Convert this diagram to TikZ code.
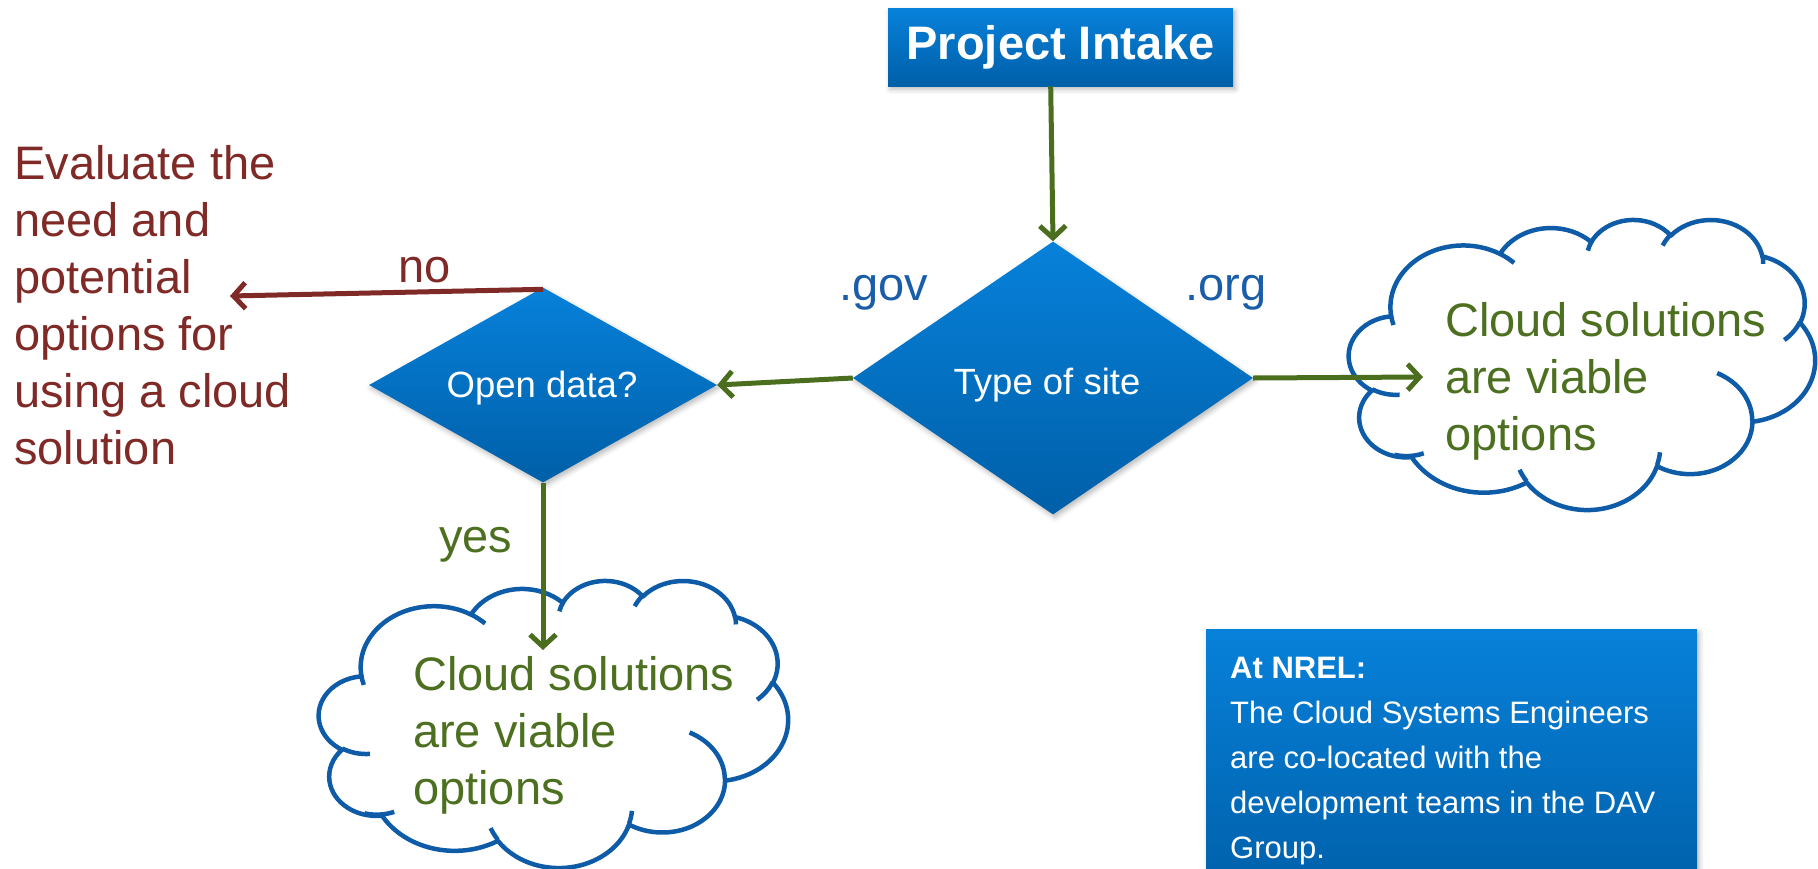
\documentclass[tikz,border=0pt]{standalone}
\usepackage{fontspec}
\setmainfont{Liberation Sans}
\usetikzlibrary{shapes.geometric,arrows.meta,shadows.blur}
\definecolor{gradtop}{HTML}{0781DA}
\definecolor{gradbot}{HTML}{005FA8}
\definecolor{cloudblue}{HTML}{0E5BA8}
\definecolor{lblblue}{HTML}{1A5DA8}
\definecolor{arrgreen}{HTML}{4A6E1E}
\definecolor{txtgreen}{HTML}{4C7020}
\definecolor{evred}{HTML}{7F2A27}
\newcommand\carc[4]{arc[x radius=#1pt,y radius=#2pt,start angle={atan2((#1)*sin(#3),(#2)*cos(#3))},delta angle={mod(atan2((#1)*sin((#3)+(#4)),(#2)*cos((#3)+(#4)))-atan2((#1)*sin(#3),(#2)*cos(#3))+720,360)}]}
\newcommand\pptcloud[4]{%
\begin{scope}[shift={(#1,#2)},xscale=#3/432,yscale=-#4/432]
 \draw[cloudline,fill=white] (39pt,143.7pt)
   \carc{67.53}{91.90}{-190.4875}{123.7805}
   \carc{53.33}{72.67}{-144.1024}{89.9452}
   \carc{43.65}{59.45}{-145.8079}{99.7230}
   \carc{48.57}{65.95}{-130.9861}{117.2417}
   \carc{53.33}{72.73}{-78.7089}{109.0269}
   \carc{67.75}{92.20}{-46.2673}{130.2690}
   \carc{57.85}{78.67}{0.6250}{114.0333}
   \carc{67.52}{92.15}{22.4516}{115.1726}
   \carc{77.20}{105.43}{66.2426}{75.7110}
   \carc{43.60}{59.18}{-274.9421}{146.7356}
   \carc{43.45}{59.45}{-246.8285}{152.5189} -- cycle;
 \draw[cloudline]
   (46.93pt,261.77pt) \carc{43.45}{59.45}{86.7420}{26.4295}
   (69.28pt,348.99pt) \carc{43.60}{59.18}{73.6091}{27.3359}
   (164.78pt,390.90pt) \carc{67.52}{92.15}{137.6242}{14.0735}
   (288.27pt,347.51pt) \carc{67.52}{92.15}{6.4533}{15.9984}
   (341.29pt,229.54pt) \carc{57.85}{78.67}{-70.2924}{70.9174}
   (417.98pt,153.54pt) \carc{53.33}{72.73}{30.3180}{27.7515}
   (383.24pt,54.26pt) \carc{48.57}{65.95}{-13.7443}{14.8589}
   (290.78pt,39.52pt) \carc{48.57}{65.95}{-149.1815}{18.1954}
   (221.41pt,47.20pt) \carc{43.65}{59.45}{-163.4943}{17.6864}
   (140.00pt,51.92pt) \carc{67.53}{91.90}{-66.7070}{12.3194}
   (41.27pt,157.89pt) \carc{67.53}{91.90}{157.6544}{11.8582};
\end{scope}}
\tikzset{
  cloudline/.style={draw=cloudblue,line width=4.5pt,line join=round,line cap=butt},
  bluegrad/.style={top color=gradtop,bottom color=gradbot,draw=none},
  softshadow/.style={blur shadow={shadow xshift=2pt,shadow yshift=-3pt,shadow blur radius=5pt,shadow opacity=28}},
  decision/.style={diamond,bluegrad,softshadow,inner sep=0pt},
  greenarrow/.style={line width=5pt,draw=arrgreen,-{Straight Barb[length=12pt,width=26pt]}},
  redarrow/.style={line width=5pt,draw=evred,-{Straight Barb[length=12pt,width=26pt]}},
  bigtxt/.style={font=\fontsize{47}{57}\selectfont,inner sep=0pt},
  midtxt/.style={font=\fontsize{36.5}{44}\selectfont,inner sep=0pt,text=white},
  smalltxt/.style={font=\fontsize{31}{45}\selectfont,inner sep=0pt,text=white}
}
\begin{document}
\begin{tikzpicture}[x=1pt,y=-1pt]
\useasboundingbox (0,0) rectangle (1818,868);
% clouds
\pptcloud{1349}{219}{466}{290}
\pptcloud{319}{580}{469}{287}
% boxes
\node[bluegrad,softshadow,anchor=north west,minimum width=345pt,minimum height=78pt,
      font=\bfseries\fontsize{47}{57}\selectfont,text=white,inner sep=0pt] (intake) at (888,8) {Project Intake};
\node[decision,minimum width=400pt,minimum height=273pt] (type) at (1053,378) {};
\node[decision,minimum width=348pt,minimum height=195pt] (od) at (543,385) {};
\node[midtxt,anchor=base] (typetxt) at (1047,394) {Type of site};
\node[midtxt,anchor=base] (odtxt) at (542,397) {Open data?};
\node[bluegrad,softshadow,anchor=north west,minimum width=491pt,minimum height=270pt,inner sep=0pt] (nrel) at (1206,629) {};
% multi-line nodes: base anchor = baseline of last line
\node[smalltxt,anchor=base west,align=left] (nreltxt) at (1230,858)
  {\textbf{At NREL:}\\The Cloud Systems Engineers\\are co-located with the\\development teams in the DAV\\Group.};
% texts
\node[bigtxt,text=evred,anchor=base west,align=left] (evaltxt) at (14,464)
  {Evaluate the\\need and\\potential\\options for\\using a cloud\\solution};
\node[bigtxt,text=txtgreen,anchor=base west,align=left] (c1txt) at (1445,450)
  {Cloud solutions\\are viable\\options};
\node[bigtxt,text=txtgreen,anchor=base west,align=left] (c2txt) at (413,804)
  {Cloud solutions\\are viable\\options};
\node[bigtxt,text=lblblue,anchor=base west] (gov) at (839,300) {.gov};
\node[bigtxt,text=lblblue,anchor=base west] (org) at (1185,300) {.org};
\node[bigtxt,text=evred,anchor=base] (no) at (425,282) {no};
\node[bigtxt,text=txtgreen,anchor=base west] (yes) at (439,552) {yes};
% connectors
\coordinate (noend) at (230,296);
\coordinate (orgend) at (1423,377);
\coordinate (yesend) at (543,650);
\draw[greenarrow] ([xshift=-10pt]intake.south) -- (type.north);
\draw[greenarrow] (type.west) -- (od.east);
\draw[greenarrow] (type.east) -- (orgend);
\draw[redarrow] ([yshift=-2pt]od.north) -- (noend);
\draw[greenarrow] (od.south) -- (yesend);
\end{tikzpicture}
\end{document}
